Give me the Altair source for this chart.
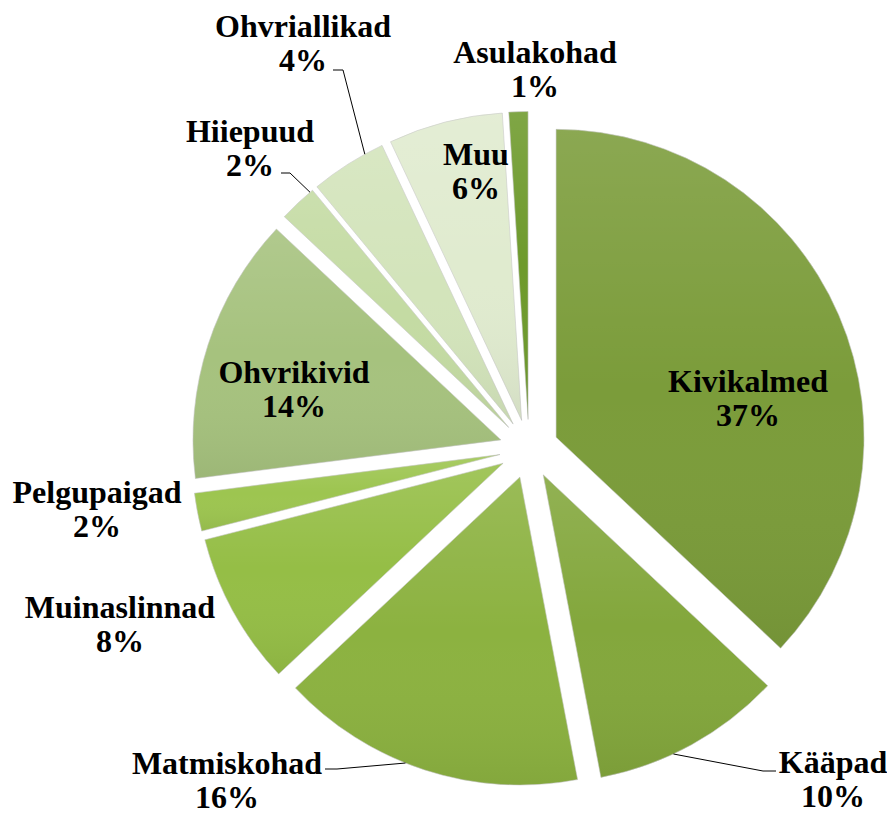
import math
import altair as alt
import pandas as pd

# ---------------- data ----------------
CATEGORIES = ["Kivikalmed", "Kääpad", "Matmiskohad", "Muinaslinnad", "Pelgupaigad",
              "Ohvrikivid", "Hiiepuud", "Ohvriallikad", "Muu", "Asulakohad"]
VALUES = [37, 10, 16, 8, 2, 14, 2, 4, 6, 1]
COLORS = ["#7b9c3a", "#83a73c", "#8cb240", "#95be46", "#9dc550",
          "#a6c27e", "#c4dba3", "#d3e4bb", "#e0ebcf", "#6e9a2c"]

# ---------------- layout (page pixels) ----------------
MARGIN = 8
CX, CY = 529 - MARGIN, 449 - MARGIN   # pie centre
R = 308                               # pie radius
EXPLODE = 29.5                        # explosion distance
FONT = "Liberation Serif"

# label anchor (centre x, first-line baseline y) offsets from pie centre
LABEL_DX = [219, 304, -302, -409, -432, -235, -279, -226, -53, 6]
LABEL_DY = [-57, 324, 325, 169, 54, -66, -307, -412, -284, -386]

# leader lines: category -> (angle on slice arc in deg, elbow offset, end offset) rel. to label anchor
LEADERS = {
    "Kääpad": (155.0, (-70, -2), (-57, -2)),
    "Matmiskohad": (201.8, (110, -5), (98, -5)),
    "Hiiepuud": (319.8, (40, 31), (31, 31)),
    "Ohvriallikad": (331.2, (40, 33), (30, 33)),
}

# ---------------- derived table ----------------
rows = []
cum = 0
for i, (c, v) in enumerate(zip(CATEGORIES, VALUES)):
    start, end = cum, cum + v
    cum = end
    mid = (start + end) / 2 / 100 * 2 * math.pi
    sx = CX + EXPLODE * math.sin(mid)
    sy = CY - EXPLODE * math.cos(mid)
    rows.append(dict(cat=c, value=v, start=start, end=end, sx=sx, sy=sy, order=i,
                     label=f"{c}\n{v}%",
                     lx=CX + LABEL_DX[i], ly=CY + LABEL_DY[i]))
df = pd.DataFrame(rows)

lead_rows = []
for c, (ang, elbow, endp) in LEADERS.items():
    r = df[df.cat == c].iloc[0]
    a = math.radians(ang)
    pts = [(r.sx + R * math.sin(a), r.sy - R * math.cos(a)),
           (r.lx + elbow[0], r.ly + elbow[1]),
           (r.lx + endp[0], r.ly + endp[1])]
    for k, (px, py) in enumerate(pts):
        lead_rows.append(dict(cat=c, k=k, px=px, py=py))
lead = pd.DataFrame(lead_rows)

color_scale = alt.Scale(domain=CATEGORIES, range=COLORS)
theta_enc = alt.Theta("start:Q", scale=alt.Scale(domain=[0, 100], range=[0, 2 * math.pi]), stack=None)

arcs = alt.Chart(df).mark_arc(radius=R, stroke="#ffffff", strokeWidth=0.5).encode(
    theta=theta_enc,
    theta2="end:Q",
    x=alt.X("sx:Q", scale=None, axis=None),
    y=alt.Y("sy:Q", scale=None, axis=None),
    color=alt.Color("cat:N", scale=color_scale, legend=None),
    order=alt.Order("order:Q"),
)

# subtle shading overlay (lighter top, darker bottom) to mimic the bevelled look
shade = alt.Chart(df).mark_arc(
    radius=R,
    fill=alt.Gradient(
        gradient="linear", x1=0, y1=0, x2=0, y2=1,
        stops=[alt.GradientStop(color="rgba(255,255,255,0.12)", offset=0),
               alt.GradientStop(color="rgba(255,255,255,0.0)", offset=0.5),
               alt.GradientStop(color="rgba(0,0,0,0.06)", offset=1)],
    ),
    stroke="rgba(0,0,0,0.12)", strokeWidth=1,
).encode(
    theta=theta_enc,
    theta2="end:Q",
    x=alt.X("sx:Q", scale=None, axis=None),
    y=alt.Y("sy:Q", scale=None, axis=None),
)

leaders = alt.Chart(lead).mark_line(color="black", strokeWidth=1).encode(
    x=alt.X("px:Q", scale=None, axis=None),
    y=alt.Y("py:Q", scale=None, axis=None),
    detail="cat:N",
    order="k:Q",
)

labels = alt.Chart(df).mark_text(
    font=FONT, fontWeight="bold", fontSize=32, lineBreak="\n", lineHeight=34,
    align="center", baseline="alphabetic", color="black",
).encode(
    x=alt.X("lx:Q", scale=None, axis=None),
    y=alt.Y("ly:Q", scale=None, axis=None),
    text="label:N",
)

chart = alt.layer(arcs, shade, leaders, labels).properties(
    width=879, height=807, autosize="none", padding=0
).configure_view(strokeWidth=0)

chart.save("out.html", embed_options={"renderer": "svg", "actions": False})
